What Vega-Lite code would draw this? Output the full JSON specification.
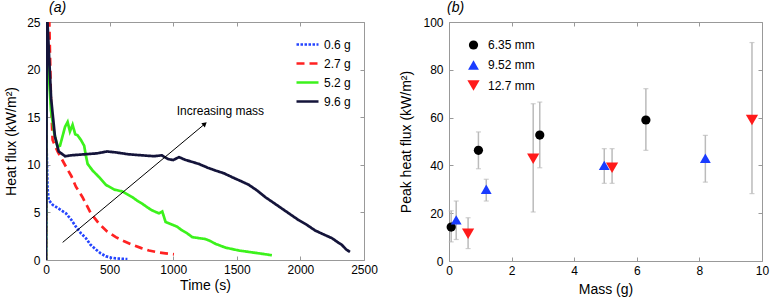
{
  "$schema": "https://vega.github.io/schema/vega-lite/v6.json",
  "padding": {"left": 4, "top": 0, "right": 0, "bottom": 0},
  "spacing": 21,
  "resolve": {"scale": {"color": "independent", "strokeDash": "independent", "shape": "independent", "size": "independent"}, "legend": {"color": "independent", "strokeDash": "independent", "shape": "independent", "size": "independent"}},
  "config": {
    "font": "Liberation Sans",
    "view": {"stroke": "#999999", "strokeWidth": 1},
    "axis": {"grid": false, "domain": false, "tickColor": "#999999", "tickSize": -4, "labelFontSize": 12, "labelColor": "#000000", "titleFontSize": 14, "titleFontWeight": "normal", "titleColor": "#000000", "labelFont": "Liberation Sans", "titleFont": "Liberation Sans", "format": "d", "labelFlush": false},
    "legend": {"labelFont": "Liberation Sans", "labelFontSize": 12, "labelColor": "#000000", "padding": 0}
  },
  "datasets": {
    "curves": [
      {"series": "0.6 g", "t": 0, "v": 0}, {"series": "0.6 g", "t": 5, "v": 11.7}, {"series": "0.6 g", "t": 12, "v": 7.5}, {"series": "0.6 g", "t": 21, "v": 6.3}, {"series": "0.6 g", "t": 52, "v": 5.8}, {"series": "0.6 g", "t": 100, "v": 5.4}, {"series": "0.6 g", "t": 157, "v": 4.9}, {"series": "0.6 g", "t": 200, "v": 4.2}, {"series": "0.6 g", "t": 235, "v": 3.5}, {"series": "0.6 g", "t": 275, "v": 2.8}, {"series": "0.6 g", "t": 313, "v": 2.3}, {"series": "0.6 g", "t": 350, "v": 1.6}, {"series": "0.6 g", "t": 392, "v": 1.1}, {"series": "0.6 g", "t": 430, "v": 0.7}, {"series": "0.6 g", "t": 470, "v": 0.4}, {"series": "0.6 g", "t": 510, "v": 0.25}, {"series": "0.6 g", "t": 549, "v": 0.17}, {"series": "0.6 g", "t": 600, "v": 0.12}, {"series": "0.6 g", "t": 640, "v": 0.1},
      {"series": "2.7 g", "t": 0, "v": 0}, {"series": "2.7 g", "t": 5, "v": 27}, {"series": "2.7 g", "t": 26, "v": 25}, {"series": "2.7 g", "t": 39, "v": 16.8}, {"series": "2.7 g", "t": 52, "v": 12.6}, {"series": "2.7 g", "t": 91, "v": 11.4}, {"series": "2.7 g", "t": 157, "v": 9.8}, {"series": "2.7 g", "t": 200, "v": 8.8}, {"series": "2.7 g", "t": 235, "v": 7.7}, {"series": "2.7 g", "t": 287, "v": 6.6}, {"series": "2.7 g", "t": 353, "v": 4.9}, {"series": "2.7 g", "t": 418, "v": 3.8}, {"series": "2.7 g", "t": 480, "v": 3.0}, {"series": "2.7 g", "t": 549, "v": 2.4}, {"series": "2.7 g", "t": 610, "v": 2.0}, {"series": "2.7 g", "t": 679, "v": 1.6}, {"series": "2.7 g", "t": 750, "v": 1.25}, {"series": "2.7 g", "t": 810, "v": 1.0}, {"series": "2.7 g", "t": 880, "v": 0.8}, {"series": "2.7 g", "t": 940, "v": 0.7}, {"series": "2.7 g", "t": 1006, "v": 0.6},
      {"series": "5.2 g", "t": 0, "v": 0}, {"series": "5.2 g", "t": 5, "v": 26}, {"series": "5.2 g", "t": 20, "v": 20}, {"series": "5.2 g", "t": 39, "v": 15.7}, {"series": "5.2 g", "t": 65, "v": 13.3}, {"series": "5.2 g", "t": 91, "v": 11.9}, {"series": "5.2 g", "t": 110, "v": 12.0}, {"series": "5.2 g", "t": 130, "v": 13.0}, {"series": "5.2 g", "t": 150, "v": 14.0}, {"series": "5.2 g", "t": 170, "v": 14.5}, {"series": "5.2 g", "t": 188, "v": 13.5}, {"series": "5.2 g", "t": 209, "v": 14.2}, {"series": "5.2 g", "t": 230, "v": 13.2}, {"series": "5.2 g", "t": 248, "v": 13.1}, {"series": "5.2 g", "t": 275, "v": 12.6}, {"series": "5.2 g", "t": 300, "v": 12.0}, {"series": "5.2 g", "t": 313, "v": 11.0}, {"series": "5.2 g", "t": 327, "v": 10.1}, {"series": "5.2 g", "t": 366, "v": 9.4}, {"series": "5.2 g", "t": 418, "v": 8.7}, {"series": "5.2 g", "t": 470, "v": 7.9}, {"series": "5.2 g", "t": 536, "v": 7.4}, {"series": "5.2 g", "t": 601, "v": 7.2}, {"series": "5.2 g", "t": 640, "v": 6.9}, {"series": "5.2 g", "t": 679, "v": 6.6}, {"series": "5.2 g", "t": 720, "v": 6.2}, {"series": "5.2 g", "t": 758, "v": 5.9}, {"series": "5.2 g", "t": 800, "v": 5.5}, {"series": "5.2 g", "t": 836, "v": 5.2}, {"series": "5.2 g", "t": 888, "v": 4.9}, {"series": "5.2 g", "t": 914, "v": 5.1}, {"series": "5.2 g", "t": 940, "v": 4.0}, {"series": "5.2 g", "t": 993, "v": 3.7}, {"series": "5.2 g", "t": 1030, "v": 3.5}, {"series": "5.2 g", "t": 1071, "v": 3.1}, {"series": "5.2 g", "t": 1110, "v": 2.8}, {"series": "5.2 g", "t": 1150, "v": 2.4}, {"series": "5.2 g", "t": 1200, "v": 2.3}, {"series": "5.2 g", "t": 1254, "v": 2.2}, {"series": "5.2 g", "t": 1290, "v": 2.0}, {"series": "5.2 g", "t": 1332, "v": 1.7}, {"series": "5.2 g", "t": 1411, "v": 1.3}, {"series": "5.2 g", "t": 1515, "v": 1.0}, {"series": "5.2 g", "t": 1620, "v": 0.8}, {"series": "5.2 g", "t": 1700, "v": 0.65}, {"series": "5.2 g", "t": 1776, "v": 0.5},
      {"series": "9.6 g", "t": 0, "v": 0}, {"series": "9.6 g", "t": 8, "v": 26}, {"series": "9.6 g", "t": 40, "v": 17}, {"series": "9.6 g", "t": 70, "v": 13}, {"series": "9.6 g", "t": 100, "v": 11.4}, {"series": "9.6 g", "t": 150, "v": 10.9}, {"series": "9.6 g", "t": 200, "v": 11.0}, {"series": "9.6 g", "t": 300, "v": 11.1}, {"series": "9.6 g", "t": 400, "v": 11.2}, {"series": "9.6 g", "t": 480, "v": 11.4}, {"series": "9.6 g", "t": 550, "v": 11.3}, {"series": "9.6 g", "t": 650, "v": 11.1}, {"series": "9.6 g", "t": 750, "v": 11.0}, {"series": "9.6 g", "t": 850, "v": 10.9}, {"series": "9.6 g", "t": 910, "v": 11.0}, {"series": "9.6 g", "t": 960, "v": 10.6}, {"series": "9.6 g", "t": 1000, "v": 10.5}, {"series": "9.6 g", "t": 1045, "v": 10.8}, {"series": "9.6 g", "t": 1100, "v": 10.5}, {"series": "9.6 g", "t": 1200, "v": 10.1}, {"series": "9.6 g", "t": 1270, "v": 9.7}, {"series": "9.6 g", "t": 1332, "v": 9.4}, {"series": "9.6 g", "t": 1400, "v": 9.1}, {"series": "9.6 g", "t": 1463, "v": 8.7}, {"series": "9.6 g", "t": 1530, "v": 8.3}, {"series": "9.6 g", "t": 1594, "v": 7.9}, {"series": "9.6 g", "t": 1660, "v": 7.3}, {"series": "9.6 g", "t": 1724, "v": 6.6}, {"series": "9.6 g", "t": 1790, "v": 6.0}, {"series": "9.6 g", "t": 1855, "v": 5.4}, {"series": "9.6 g", "t": 1920, "v": 4.8}, {"series": "9.6 g", "t": 1985, "v": 4.2}, {"series": "9.6 g", "t": 2050, "v": 3.7}, {"series": "9.6 g", "t": 2116, "v": 3.1}, {"series": "9.6 g", "t": 2180, "v": 2.7}, {"series": "9.6 g", "t": 2247, "v": 2.3}, {"series": "9.6 g", "t": 2290, "v": 1.9}, {"series": "9.6 g", "t": 2325, "v": 1.6}, {"series": "9.6 g", "t": 2360, "v": 1.1}, {"series": "9.6 g", "t": 2390, "v": 0.85}
    ],
    "arrow": [
      {"t0": 131, "v0": 1.85, "t1": 1249, "v1": 14.3, "tl": 1371, "vl": 15.6, "label": "Increasing mass"}
    ],
    "points": [
      {"size": "6.35 mm", "mass": 0.07, "peak": 14.2, "lo": 8, "hi": 21},
      {"size": "6.35 mm", "mass": 0.94, "peak": 46.3, "lo": 38.6, "hi": 54},
      {"size": "6.35 mm", "mass": 2.9, "peak": 52.7, "lo": 39, "hi": 66.5},
      {"size": "6.35 mm", "mass": 6.29, "peak": 59, "lo": 46.3, "hi": 72.1},
      {"size": "9.52 mm", "mass": 0.23, "peak": 17.2, "lo": 9, "hi": 25.1},
      {"size": "9.52 mm", "mass": 1.19, "peak": 30, "lo": 25.1, "hi": 34.2},
      {"size": "9.52 mm", "mass": 4.96, "peak": 40, "lo": 32.5, "hi": 47},
      {"size": "9.52 mm", "mass": 8.19, "peak": 43, "lo": 33, "hi": 52.6},
      {"size": "12.7 mm", "mass": 0.61, "peak": 11.4, "lo": 5.2, "hi": 18.1},
      {"size": "12.7 mm", "mass": 2.69, "peak": 42.8, "lo": 20.5, "hi": 65.8},
      {"size": "12.7 mm", "mass": 5.21, "peak": 39, "lo": 32.5, "hi": 47},
      {"size": "12.7 mm", "mass": 9.68, "peak": 59, "lo": 28.2, "hi": 91.4}
    ]
  },
  "hconcat": [
    {
      "width": 318,
      "height": 238,
      "title": {"text": "(a)", "anchor": "start", "frame": "group", "fontStyle": "italic", "fontWeight": "normal", "fontSize": 14, "offset": 1, "dx": 3, "font": "Liberation Sans"},
      "resolve": {"axis": {"x": "independent", "y": "independent"}},
      "layer": [
        {
          "data": {"name": "curves"},
          "mark": {"type": "line", "clip": true, "strokeWidth": 2.7},
          "encoding": {
            "x": {"field": "t", "type": "quantitative", "scale": {"domain": [0, 2500], "nice": false}, "axis": {"orient": "bottom", "values": [0, 500, 1000, 1500, 2000, 2500], "title": "Time (s)", "labelPadding": 8, "titlePadding": 3}},
            "y": {"field": "v", "type": "quantitative", "scale": {"domain": [0, 25], "nice": false}, "axis": {"orient": "left", "values": [0, 5, 10, 15, 20, 25], "title": "Heat flux (kW/m²)", "labelPadding": 10, "titlePadding": 8}},
            "color": {"field": "series", "type": "nominal", "scale": {"domain": ["0.6 g", "2.7 g", "5.2 g", "9.6 g"], "range": ["#2444ff", "#ff2222", "#3cf21c", "#14143a"]}, "legend": {"title": null, "orient": "none", "legendX": 249, "legendY": 10, "symbolType": "stroke", "symbolSize": 484, "symbolStrokeWidth": 2.7, "rowPadding": -4, "labelOffset": 4}},
            "strokeDash": {"field": "series", "type": "nominal", "scale": {"domain": ["0.6 g", "2.7 g", "5.2 g", "9.6 g"], "range": [[2.5, 1.5], [8, 5], [1, 0], [1, 0]]}, "legend": {"title": null, "orient": "none", "legendX": 249, "legendY": 10, "symbolType": "stroke", "symbolSize": 484, "symbolStrokeWidth": 2.7, "rowPadding": -4, "labelOffset": 4}}
          }
        },
        {
          "data": {"name": "arrow"},
          "mark": {"type": "rule", "color": "#000000", "strokeWidth": 1},
          "encoding": {
            "x": {"field": "t0", "type": "quantitative", "scale": {"domain": [0, 2500], "nice": false}, "axis": null},
            "y": {"field": "v0", "type": "quantitative", "scale": {"domain": [0, 25], "nice": false}, "axis": null},
            "x2": {"field": "t1"},
            "y2": {"field": "v1"}
          }
        },
        {
          "data": {"name": "arrow"},
          "mark": {"type": "point", "shape": "triangle-up", "angle": 50, "filled": true, "color": "#000000", "size": 30, "opacity": 1},
          "encoding": {
            "x": {"field": "t1", "type": "quantitative", "scale": {"domain": [0, 2500], "nice": false}, "axis": null},
            "y": {"field": "v1", "type": "quantitative", "scale": {"domain": [0, 25], "nice": false}, "axis": null}
          }
        },
        {
          "data": {"name": "arrow"},
          "mark": {"type": "text", "fontSize": 12, "color": "#000000", "font": "Liberation Sans"},
          "encoding": {
            "x": {"field": "tl", "type": "quantitative", "scale": {"domain": [0, 2500], "nice": false}, "axis": {"orient": "top", "values": [0, 500, 1000, 1500, 2000, 2500], "labels": false, "title": null, "domain": false, "minExtent": 0}},
            "y": {"field": "vl", "type": "quantitative", "scale": {"domain": [0, 25], "nice": false}, "axis": {"orient": "right", "values": [0, 5, 10, 15, 20, 25], "labels": false, "title": null, "domain": false, "minExtent": 0}},
            "text": {"field": "label"}
          }
        }
      ]
    },
    {
      "width": 313,
      "height": 239,
      "title": {"text": "(b)", "anchor": "start", "frame": "group", "fontStyle": "italic", "fontWeight": "normal", "fontSize": 14, "offset": 1, "dx": -2, "font": "Liberation Sans"},
      "resolve": {"axis": {"x": "independent", "y": "independent"}},
      "layer": [
        {
          "data": {"name": "points"},
          "mark": {"type": "rule", "color": "#bbbbbb", "strokeWidth": 1.5},
          "encoding": {
            "x": {"field": "mass", "type": "quantitative", "scale": {"domain": [0, 10], "nice": false}, "axis": {"orient": "top", "values": [0, 2, 4, 6, 8, 10], "labels": false, "title": null, "domain": false, "minExtent": 0}},
            "y": {"field": "lo", "type": "quantitative", "scale": {"domain": [0, 100], "nice": false}, "axis": {"orient": "right", "values": [0, 20, 40, 60, 80, 100], "labels": false, "title": null, "domain": false, "minExtent": 0}},
            "y2": {"field": "hi"}
          }
        },
        {
          "data": {"name": "points"},
          "mark": {"type": "tick", "orient": "horizontal", "color": "#bbbbbb", "size": 5, "thickness": 1.2},
          "encoding": {
            "x": {"field": "mass", "type": "quantitative", "scale": {"domain": [0, 10], "nice": false}, "axis": null},
            "y": {"field": "lo", "type": "quantitative", "scale": {"domain": [0, 100], "nice": false}, "axis": null}
          }
        },
        {
          "data": {"name": "points"},
          "mark": {"type": "tick", "orient": "horizontal", "color": "#bbbbbb", "size": 5, "thickness": 1.2},
          "encoding": {
            "x": {"field": "mass", "type": "quantitative", "scale": {"domain": [0, 10], "nice": false}, "axis": null},
            "y": {"field": "hi", "type": "quantitative", "scale": {"domain": [0, 100], "nice": false}, "axis": null}
          }
        },
        {
          "data": {"name": "points"},
          "mark": {"type": "point", "filled": true, "opacity": 1},
          "encoding": {
            "x": {"field": "mass", "type": "quantitative", "scale": {"domain": [0, 10], "nice": false}, "axis": {"orient": "bottom", "values": [0, 2, 4, 6, 8, 10], "title": "Mass (g)", "labelPadding": 8, "titlePadding": 6}},
            "y": {"field": "peak", "type": "quantitative", "scale": {"domain": [0, 100], "nice": false}, "axis": {"orient": "left", "values": [0, 20, 40, 60, 80, 100], "title": "Peak heat flux (kW/m²)", "labelPadding": 10, "titlePadding": 9}},
            "color": {"field": "size", "type": "nominal", "scale": {"domain": ["6.35 mm", "9.52 mm", "12.7 mm"], "range": ["#000000", "#1a3cff", "#ff1a1a"]}, "legend": {"title": null, "orient": "none", "legendX": 18, "legendY": 17, "rowPadding": 8, "labelOffset": 8, "symbolStrokeWidth": 0}},
            "shape": {"field": "size", "type": "nominal", "scale": {"domain": ["6.35 mm", "9.52 mm", "12.7 mm"], "range": ["circle", "triangle-up", "triangle-down"]}, "legend": {"title": null, "orient": "none", "legendX": 18, "legendY": 17, "rowPadding": 8, "labelOffset": 8, "symbolStrokeWidth": 0}},
            "size": {"field": "size", "type": "nominal", "scale": {"domain": ["6.35 mm", "9.52 mm", "12.7 mm"], "range": [85, 150, 150]}, "legend": {"title": null, "orient": "none", "legendX": 18, "legendY": 17, "rowPadding": 8, "labelOffset": 8, "symbolStrokeWidth": 0}}
          }
        }
      ]
    }
  ]
}
